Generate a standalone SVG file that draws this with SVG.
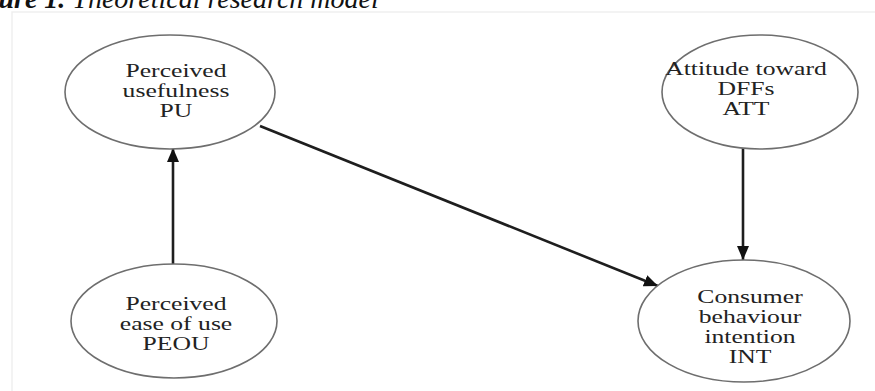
<svg xmlns="http://www.w3.org/2000/svg" width="875" height="391" viewBox="0 0 875 391">
<style>
.node{fill:#fff;stroke:#6e6e6e;stroke-width:1.6}
.lbl{font-family:"Liberation Serif","Times New Roman",serif;font-size:19px;fill:#222;text-anchor:middle}
.edge{stroke:#1e1e1e;stroke-width:2.6;fill:none}
.title{font-family:"Liberation Serif","Times New Roman",serif;font-size:28px;font-style:italic;fill:#111}
</style>
<defs>
<marker id="ah" markerUnits="userSpaceOnUse" markerWidth="16" markerHeight="14" refX="14" refY="6" orient="auto">
<path d="M0,0 L14,6 L0,12 Z" fill="#111"/>
</marker>
</defs>
<rect width="875" height="391" fill="#fff"/>
<path d="M12,391 V12 H875" fill="none" stroke="#efefef" stroke-width="1.5"/>
<text class="title" x="-42" y="8"><tspan font-weight="bold">Figure 1.</tspan> Theoretical research model</text>
<g id="connectors">
<line class="edge" x1="173" y1="264" x2="173" y2="148" marker-end="url(#ah)"/>
<line class="edge" x1="743" y1="147" x2="743" y2="260" marker-end="url(#ah)"/>
<line class="edge" x1="260" y1="126" x2="658" y2="286" marker-end="url(#ah)"/>
</g>
<g id="PU">
<ellipse class="node" cx="170" cy="92" rx="105" ry="57"/>
<g transform="translate(176,0) scale(1.35,1)">
<text class="lbl" x="0" y="77">Perceived</text>
<text class="lbl" x="0" y="97">usefulness</text>
<text class="lbl" x="0" y="117">PU</text>
</g>
</g>
<g id="ATT">
<ellipse class="node" cx="760" cy="92" rx="98" ry="57"/>
<g transform="translate(746,0) scale(1.35,1)">
<text class="lbl" x="0" y="75">Attitude toward</text>
<text class="lbl" x="0" y="95">DFFs</text>
<text class="lbl" x="0" y="115">ATT</text>
</g>
</g>
<g id="PEOU">
<ellipse class="node" cx="174" cy="321" rx="103" ry="57"/>
<g transform="translate(176,0) scale(1.35,1)">
<text class="lbl" x="0" y="310">Perceived</text>
<text class="lbl" x="0" y="330">ease of use</text>
<text class="lbl" x="0" y="350">PEOU</text>
</g>
</g>
<g id="INT">
<ellipse class="node" cx="744" cy="321" rx="106" ry="61"/>
<g transform="translate(750,0) scale(1.35,1)">
<text class="lbl" x="0" y="303">Consumer</text>
<text class="lbl" x="0" y="323">behaviour</text>
<text class="lbl" x="0" y="343">intention</text>
<text class="lbl" x="0" y="363">INT</text>
</g>
</g>
</svg>
